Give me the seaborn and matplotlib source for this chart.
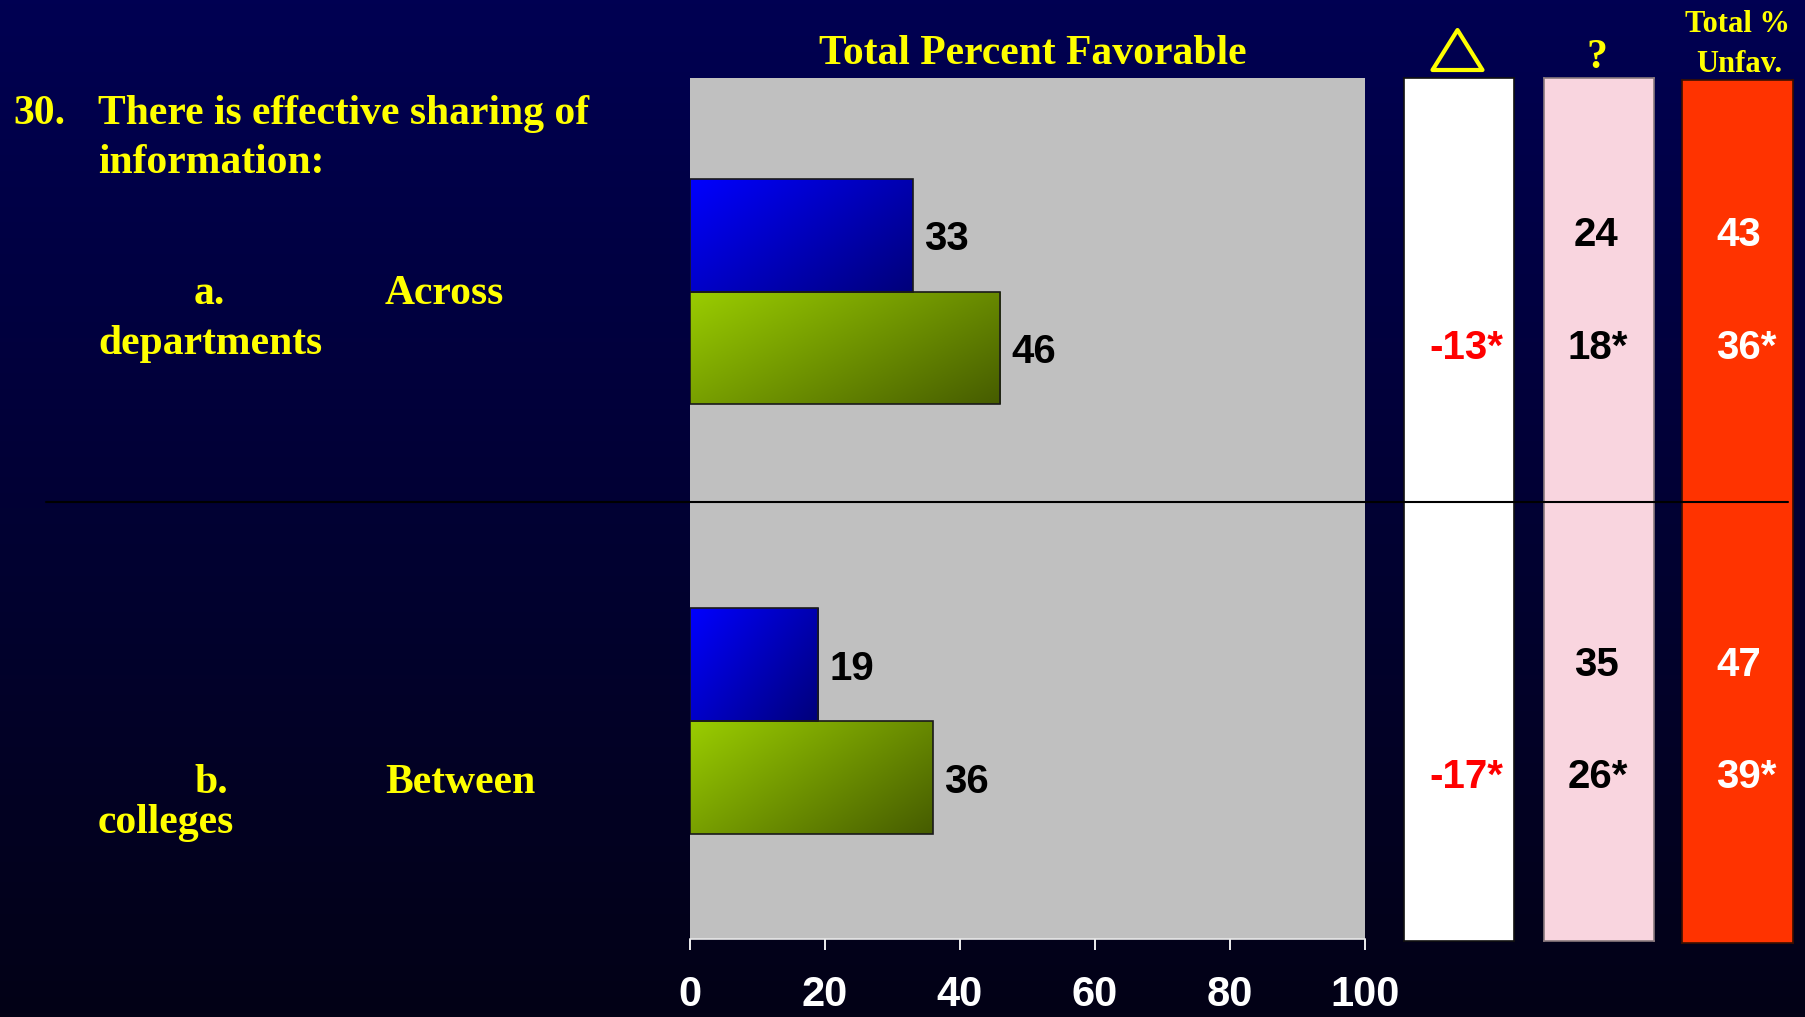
import numpy as np
import pandas as pd
import matplotlib
matplotlib.use("Agg")
import matplotlib.pyplot as plt
import seaborn as sns
from matplotlib.patches import Polygon
from matplotlib.lines import Line2D
from matplotlib.transforms import blended_transform_factory, ScaledTranslation
from matplotlib.colors import to_rgb

# ---- data -------------------------------------------------------------
question_no = "30."
question = ["There is effective sharing of", "information:"]
item_letters = ["a.", "b."]
items = ["Across departments", "Between colleges"]
groups = ["Group A", "Group B"]

favorable_a = [33, 19]          # blue bars
favorable_b = [46, 36]          # green bars

change_b = ["-13*", "-17*"]      # difference column (second row only)
neutral_a = ["24", "35"]
neutral_b = ["18*", "26*"]
unfav_a = ["43", "47"]
unfav_b = ["36*", "39*"]

title = "Total Percent Favorable"
ticks = [0, 20, 40, 60, 80, 100]

# ---- styling ------------------------------------------------------------
sns.set_theme(style="white")
SERIF = ["Liberation Serif", "DejaVu Serif"]
SANS = ["Liberation Sans", "DejaVu Sans"]
YELLOW = "#FFFF00"

W, H = 1806, 1017
fig = plt.figure(figsize=(W / 100, H / 100), dpi=100)


def fx(px):
    return px / W


def fy(py):
    return 1 - py / H


# dark navy backdrop fading toward black
bg = fig.add_axes([0, 0, 1, 1], zorder=-10)
top, bottom = np.array([0, 0, 82]) / 255, np.array([3, 2, 22]) / 255
t = np.linspace(0, 1, 256)[:, None, None]
bg.imshow(top * (1 - t) + bottom * t, aspect="auto", extent=[0, 1, 0, 1], origin="upper")
bg.axis("off")

# ---- favorable bars ---------------------------------------------------------
df = pd.DataFrame({
    "item": items * 2,
    "group": [groups[0]] * len(items) + [groups[1]] * len(items),
    "value": favorable_a + favorable_b,
})

ax = fig.add_axes([fx(690), fy(939), (1365 - 690) / W, (939 - 78) / H])
ax.set_facecolor("#C0C0C0")
sns.barplot(data=df, x="value", y="item", hue="group", order=items, hue_order=groups,
            palette=["#0000FF", "#99CC00"], saturation=1, width=0.525, orient="h",
            legend=False, edgecolor="#1a1a1a", linewidth=1.2, ax=ax)

# diagonal shading inside every bar
shades = [("#0000FF", "#00007A"), ("#9ACD00", "#465C00")]
u = np.linspace(0, 1, 200)[None, :]
v = np.linspace(0, 1, 60)[:, None]
tt = np.clip(0.6 * u + 0.4 * v, 0, 1)[..., None]
for cont, (c0, c1) in zip(ax.containers, shades):
    grad = np.array(to_rgb(c0)) * (1 - tt) + np.array(to_rgb(c1)) * tt
    for patch in cont:
        bb = patch.get_bbox()
        im = ax.imshow(grad, extent=(bb.x0, bb.x1, bb.y1, bb.y0), origin="upper",
                       aspect="auto", zorder=patch.get_zorder() - 0.05)
        im.set_clip_path(patch)
        patch.set_facecolor("none")

ax.set_xlim(0, 100)
ax.set_ylim(1.507, -0.497)

for cont in ax.containers:
    labels = ax.bar_label(cont, fmt="%g", padding=8, fontsize=29,
                          fontweight="bold", family=SANS, color="black")
    for lbl in labels:
        lbl.set_va("center_baseline")

ax.set_xticks(ticks)
ax.set_xticklabels([str(v) for v in ticks])
ax.set_yticks([])
ax.set_xlabel("")
ax.set_ylabel("")
ax.tick_params(axis="x", colors="white", length=8, width=1.3, pad=18,
               labelsize=30, bottom=True)
for lbl in ax.get_xticklabels():
    lbl.set_fontweight("bold")
    lbl.set_family(SANS)
for side in ["top", "right", "left"]:
    ax.spines[side].set_visible(False)
ax.spines["bottom"].set_color("#E8E8E8")
ax.spines["bottom"].set_linewidth(1.2)

# centres of the two bar rows for each item
row_a = [p.get_y() + p.get_height() / 2 for p in ax.containers[0]]
row_b = [p.get_y() + p.get_height() / 2 for p in ax.containers[1]]

# ---- side columns -------------------------------------------------------------
columns = [
    (1404, 1514, 78, 941, "#FFFFFF", "#111111"),
    (1544, 1654, 78, 941, "#F9D5DF", "#8a7a7e"),
    (1682, 1793, 80, 943, "#FF3300", "#3a1000"),
]
for x0, x1, y0, y1, fc, ec in columns:
    cax = fig.add_axes([fx(x0), fy(y1), (x1 - x0) / W, (y1 - y0) / H])
    cax.set_facecolor(fc)
    cax.set_xticks([])
    cax.set_yticks([])
    for s in cax.spines.values():
        s.set_color(ec)
        s.set_linewidth(1.2)

tr = blended_transform_factory(fig.transFigure, ax.transData) + \
    ScaledTranslation(0, 3 / 72, fig.dpi_scale_trans)
cell_kw = dict(fontsize=29, fontweight="bold", family=SANS, ha="center",
               va="center_baseline", transform=tr)
for i in range(len(items)):
    fig.text(fx(1466), row_b[i], change_b[i], color="#FF0000", **cell_kw)
    fig.text(fx(1596), row_a[i], neutral_a[i], color="black", **cell_kw)
    fig.text(fx(1598), row_b[i], neutral_b[i], color="black", **cell_kw)
    fig.text(fx(1739), row_a[i], unfav_a[i], color="white", **cell_kw)
    fig.text(fx(1746), row_b[i], unfav_b[i], color="white", **cell_kw)

# ---- headings -------------------------------------------------------------
head_kw = dict(color=YELLOW, fontweight="bold", family=SERIF, va="baseline")
fig.text(fx(1033), fy(64), title, fontsize=30, ha="center", **head_kw)
fig.text(fx(1597), fy(68), "?", fontsize=30, ha="center", **head_kw)
fig.text(fx(1738), fy(32), "Total %", fontsize=22, ha="center", **head_kw)
fig.text(fx(1739), fy(72), "Unfav.", fontsize=22, ha="center", **head_kw)
fig.add_artist(Polygon([(fx(1457.5), fy(30)), (fx(1432.5), fy(70)), (fx(1482.5), fy(70))],
                       closed=True, fill=False, edgecolor=YELLOW, linewidth=3,
                       joinstyle="round", transform=fig.transFigure))

# question text and item labels
fig.text(fx(13), fy(124), question_no, fontsize=30, ha="left", **head_kw)
fig.text(fx(98), fy(124), question[0], fontsize=30, ha="left", **head_kw)
fig.text(fx(98), fy(173), question[1], fontsize=30, ha="left", **head_kw)

item_baselines = [(304, 354), (793, 833)]
for letter, item, (b1, b2) in zip(item_letters, items, item_baselines):
    first, second = item.split(" ", 1)
    fig.text(fx(194), fy(b1), letter, fontsize=30, ha="left", **head_kw)
    fig.text(fx(385), fy(b1), first, fontsize=30, ha="left", **head_kw)
    fig.text(fx(98), fy(b2), second, fontsize=30, ha="left", **head_kw)

# divider between the two items
fig.add_artist(Line2D([fx(46), fx(1788)], [fy(502), fy(502)], color="black",
                      linewidth=1.5, transform=fig.transFigure))

fig.savefig("out.png", dpi=100, facecolor=fig.get_facecolor())
